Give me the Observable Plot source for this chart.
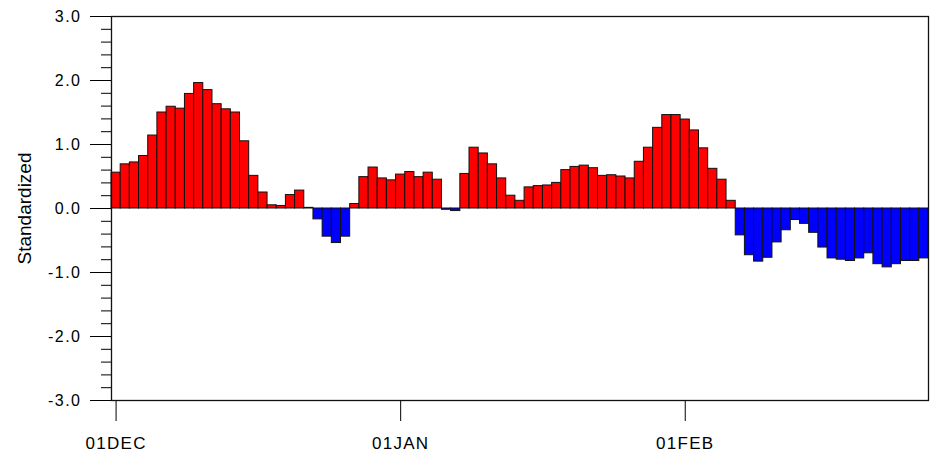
<!DOCTYPE html>
<html>
<head>
<meta charset="utf-8">
<script src="https://cdn.jsdelivr.net/npm/d3@7"></script>
<script src="https://cdn.jsdelivr.net/npm/@observablehq/plot@0.6"></script>
<style>
  html, body { margin: 0; padding: 0; background: #fff; }
  #chart svg { display: block; font-family: "Liberation Sans", Arial, Helvetica, sans-serif; }
  g[aria-label="y-axis tick label"] text { font-size: 16px; letter-spacing: 1.5px; }
  g[aria-label="x-axis tick label"] text { font-size: 17px; letter-spacing: 1.3px; }
</style>
</head>
<body>
<div id="chart"></div>
<script>
// Daily standardized index, 1 Dec through 27 Feb (day 0 = 01DEC)
const values = [
  0.56, 0.69, 0.72, 0.82, 1.14, 1.50, 1.59, 1.56, 1.79, 1.96,
  1.85, 1.63, 1.55, 1.50, 1.05, 0.51, 0.25, 0.05, 0.04, 0.21,
  0.28, 0.01, -0.17, -0.44, -0.54, -0.44, 0.07, 0.49, 0.64, 0.47,
  0.44, 0.53, 0.57, 0.49, 0.56, 0.45, -0.02, -0.04, 0.54, 0.95,
  0.86, 0.69, 0.47, 0.20, 0.12, 0.33, 0.35, 0.36, 0.40, 0.60,
  0.65, 0.67, 0.63, 0.51, 0.52, 0.50, 0.47, 0.73, 0.95, 1.26,
  1.46, 1.46, 1.39, 1.22, 0.94, 0.62, 0.45, 0.12, -0.42, -0.73,
  -0.83, -0.77, -0.53, -0.34, -0.18, -0.24, -0.38, -0.61, -0.78, -0.80,
  -0.82, -0.78, -0.70, -0.87, -0.92, -0.87, -0.82, -0.82, -0.78
];

// Date ticks (day offsets from 01DEC) and their labels
const xTicks = [0, 31, 62];
const xTickLabels = ["01DEC", "01JAN", "01FEB"];

// Value axis ticks
const yTicks = [-3, -2, -1, 0, 1, 2, 3];
const yTickLabels = ["-3.0", "-2.0", "-1.0", "0.0", "1.0", "2.0", "3.0"];
const yMinorTicks = d3.range(-15, 16).map(k => k / 5).filter(v => !Number.isInteger(v));

const yLabel = "Standardized";

const records = values.map((v, i) => ({day: i, value: v}));

const chart = Plot.plot({
  width: 932,
  height: 453,
  marginLeft: 111,
  marginRight: 4,
  marginTop: 16,
  marginBottom: 53,
  style: {background: "#fff", color: "#000", fontSize: "16px"},
  x: {domain: [-0.5, values.length - 0.5]},
  y: {domain: [-3, 3]},
  color: {type: "identity"},
  marks: [
    Plot.rect(records, {
      x1: d => d.day - 0.5,
      x2: d => d.day + 0.5,
      y1: 0,
      y2: "value",
      fill: d => d.value >= 0 ? "#ff0000" : "#0000ff",
      stroke: "#111",
      strokeWidth: 1
    }),
    Plot.axisY(yMinorTicks, {tickSize: 10, tickFormat: () => "", strokeWidth: 1, label: null}),
    Plot.axisY(yTicks, {
      tickSize: 21,
      tickPadding: 9,
      strokeWidth: 1,
      tickFormat: d => yTickLabels[yTicks.indexOf(d)],
      label: null
    }),
    Plot.axisX(xTicks, {
      tickSize: 21,
      tickPadding: 15,
      strokeWidth: 1,
      tickFormat: d => xTickLabels[xTicks.indexOf(d)],
      label: null
    }),
    Plot.frame({stroke: "#111", strokeWidth: 1.3}),
    Plot.text([yLabel], {
      frameAnchor: "left",
      textAnchor: "middle",
      dx: -87,
      rotate: -90,
      fontSize: 19,
      fill: "#000"
    })
  ]
});

document.getElementById("chart").appendChild(chart);
</script>
</body>
</html>
